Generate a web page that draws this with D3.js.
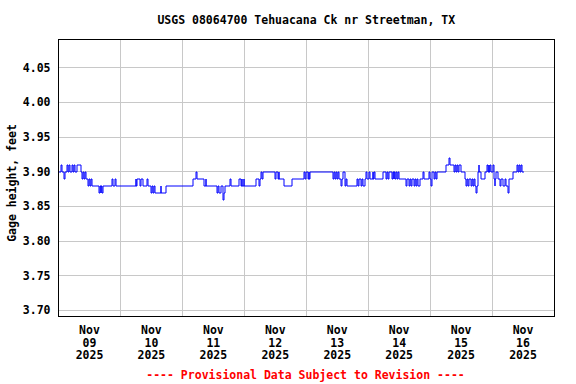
<!DOCTYPE html>
<html>
<head>
<meta charset="utf-8">
<script src="https://cdn.jsdelivr.net/npm/d3@7"></script>
<style>
    body { margin: 0; background: #fff; }
    text { font-family: 'DejaVu Sans Mono', monospace; font-weight: bold; }
</style>
</head>
<body>
<div id="gageChart"></div>
<script>
const title = 'USGS 08064700 Tehuacana Ck nr Streetman, TX',
    yLabel = 'Gage height, feet',
    footer = '---- Provisional Data Subject to Revision ----';

// start of the plotted period (hours below are counted from here, UTC)
const startDay = Date.UTC(2025, 10, 9),
    endDay = Date.UTC(2025, 10, 17);

const dayLabels = ['09', '10', '11', '12', '13', '14', '15', '16'];
const yTicks = [3.70, 3.75, 3.80, 3.85, 3.90, 3.95, 4.00, 4.05];
const yDomain = [3.6913, 4.0904];

// gage height change points: hours since Nov 09 00:00, feet
const gageHours = [
    0, 0.65, 1.0, 1.9, 2.2, 3.2, 3.6, 3.9, 4.3, 5.2, 5.5, 5.9, 6.2, 6.8, 8.6, 9.0, 9.4, 9.8, 10.1, 10.3,
    11.2, 11.5, 12.0, 12.4, 12.6, 15.5, 15.8, 16.1, 16.4, 16.6, 17.0, 20.6, 21.0, 21.7, 22.2,
    29.7, 30.0, 30.3, 31.2, 31.7, 32.5, 34.1, 34.6, 35.6, 35.9, 36.6, 36.9, 37.2, 39.4, 39.7, 41.55,
    52.1, 53.2, 53.6, 56.3, 56.8, 57.1, 61.2, 61.7, 62.1, 62.7, 63.6, 64.0, 64.5, 66.3, 66.8,
    69.8, 70.4, 70.8, 71.1, 71.6, 71.8, 76.4,
    77.4, 77.7, 78.4, 78.6, 79.0, 83.7, 84.1, 84.8, 85.2, 85.4, 87.2, 90.3, 94.8, 95.4, 95.8, 96.3, 96.7, 97.0, 97.3,
    106.1, 106.5, 106.8, 107.4, 107.7, 108.1, 108.4, 109.4, 109.7, 110.0, 110.7, 111.0, 111.3, 111.6,
    115.4, 115.9, 116.4, 116.9, 117.4, 117.9, 118.5, 119.0, 119.4, 120.2, 120.5, 121.5, 121.8, 122.2, 122.5,
    125.4, 126.7, 127.0, 127.6, 127.9,
    129.0, 129.3, 129.7, 130.0, 130.3, 130.6, 131.0, 131.3, 131.6, 134.5, 135.0, 135.5, 136.0, 136.4, 136.8,
    137.4, 138.0, 138.4, 138.8, 139.3, 139.7, 141.1, 141.6, 143.3, 143.8, 144.2, 144.7, 145.2, 145.6, 146.0,
    146.4, 150.0, 151.0, 151.4, 152.9, 153.3,
    153.7, 154.1, 154.5, 154.9, 155.6, 157.2, 157.8, 158.2, 158.5, 158.9, 159.5, 160.0, 160.4, 160.8, 161.3,
    161.7, 162.1, 162.3, 162.6, 162.9, 163.4, 164.9, 165.7, 166.1, 166.5, 166.7, 167.1, 167.5, 168.2, 168.5,
    168.8, 169.1, 169.4, 170.0, 170.7, 171.3, 172.0, 172.7, 173.3, 173.9, 174.3, 175.2, 175.9, 177.3, 177.7,
    178.1, 178.5, 178.9, 179.3, 180.0
];
const gageValues = [
    3.90, 3.91, 3.90, 3.89, 3.90, 3.91, 3.90, 3.91, 3.90, 3.91, 3.90, 3.91, 3.90, 3.91, 3.90, 3.89, 3.90, 3.89, 3.90, 3.89,
    3.88, 3.89, 3.88, 3.89, 3.88, 3.87, 3.88, 3.87, 3.88, 3.87, 3.88, 3.89, 3.88, 3.89, 3.88,
    3.89, 3.88, 3.89, 3.88, 3.89, 3.88, 3.89, 3.88, 3.87, 3.88, 3.87, 3.88, 3.87, 3.88, 3.87, 3.88,
    3.89, 3.90, 3.89, 3.88, 3.89, 3.88, 3.87, 3.88, 3.87, 3.88, 3.86, 3.87, 3.88, 3.89, 3.88,
    3.89, 3.88, 3.89, 3.88, 3.89, 3.88, 3.89,
    3.88, 3.89, 3.90, 3.89, 3.90, 3.89, 3.90, 3.89, 3.90, 3.89, 3.88, 3.89, 3.90, 3.89, 3.90, 3.89, 3.90, 3.89, 3.90,
    3.89, 3.90, 3.89, 3.90, 3.89, 3.90, 3.89, 3.88, 3.89, 3.90, 3.89, 3.88, 3.89, 3.88,
    3.89, 3.88, 3.89, 3.88, 3.89, 3.88, 3.89, 3.90, 3.89, 3.90, 3.89, 3.90, 3.89, 3.90, 3.89,
    3.90, 3.89, 3.90, 3.89, 3.90,
    3.89, 3.90, 3.89, 3.90, 3.89, 3.90, 3.89, 3.90, 3.89, 3.88, 3.89, 3.88, 3.89, 3.88, 3.89,
    3.88, 3.89, 3.88, 3.89, 3.88, 3.89, 3.90, 3.89, 3.90, 3.89, 3.88, 3.90, 3.89, 3.90, 3.89,
    3.90, 3.91, 3.92, 3.91, 3.90, 3.91,
    3.90, 3.91, 3.90, 3.91, 3.90, 3.89, 3.88, 3.89, 3.88, 3.89, 3.88, 3.89, 3.88, 3.89, 3.88,
    3.87, 3.88, 3.90, 3.91, 3.90, 3.89, 3.90, 3.91, 3.90, 3.91, 3.90, 3.91, 3.90, 3.91, 3.89,
    3.88, 3.89, 3.90, 3.89, 3.88, 3.89, 3.88, 3.89, 3.88, 3.87, 3.89, 3.89, 3.90, 3.91, 3.90,
    3.91, 3.90, 3.91, 3.90, 3.90
];

const margin = { top: 39.5, right: 22, bottom: 68, left: 58.5 },
    width = 576 - margin.left - margin.right,
    height = 384 - margin.top - margin.bottom,
    labelSize = '11.5px';

const svg = d3.select('#gageChart')
    .append('svg')
    .attr('width', 576)
    .attr('height', 384);

// title
svg.append('text')
    .attr('x', margin.left + width / 2)
    .attr('y', 24)
    .attr('text-anchor', 'middle')
    .style('font-size', labelSize)
    .text(title);

const g = svg.append('g')
    .attr('transform', `translate(${margin.left},${margin.top})`);

const xScale = d3.scaleUtc().domain([startDay, endDay]).range([0, width]);
const yScale = d3.scaleLinear().domain(yDomain).range([height, 0]);

// horizontal grid + labels
const yAxis = g.append('g')
    .call(d3.axisLeft(yScale).tickValues(yTicks).tickSize(-width).tickFormat(d3.format('.2f')).tickPadding(8));
yAxis.select('.domain').remove();
yAxis.selectAll('line').attr('stroke', '#c8c8c8').attr('shape-rendering', 'crispEdges');
yAxis.selectAll('text').style('font-size', labelSize).attr('fill', '#000');

// vertical grid at midnight
const midnights = d3.utcDay.range(startDay + 864e5, endDay);
g.append('g')
    .selectAll('line')
    .data(midnights)
    .join('line')
    .attr('x1', (d) => xScale(d))
    .attr('x2', (d) => xScale(d))
    .attr('y1', 0)
    .attr('y2', height)
    .attr('stroke', '#c8c8c8')
    .attr('shape-rendering', 'crispEdges');

// date labels at noon
const noons = dayLabels.map((d, i) => startDay + i * 864e5 + 432e5);
const labelGroups = g.append('g')
    .selectAll('text')
    .data(noons)
    .join('text')
    .attr('text-anchor', 'middle')
    .attr('transform', (d) => `translate(${xScale(d)},${height + 18})`)
    .style('font-size', labelSize);
labelGroups.append('tspan').attr('x', 0).attr('dy', 0).text('Nov');
labelGroups.append('tspan').attr('x', 0).attr('dy', 12.7).text((d, i) => dayLabels[i]);
labelGroups.append('tspan').attr('x', 0).attr('dy', 12.7).text('2025');

// gage height line
const series = gageHours.map((h, i) => [startDay + h * 36e5, gageValues[i]]);
const gageLine = d3.line()
    .curve(d3.curveStepAfter)
    .x((d) => Math.round(xScale(d[0])) + 0.5)
    .y((d) => Math.round(yScale(d[1])) + 0.5);
g.append('path')
    .datum(series)
    .attr('fill', 'none')
    .attr('stroke', '#0000ff')
    .attr('stroke-width', 1)
    .attr('d', gageLine);

// plot border
g.append('rect')
    .attr('width', width)
    .attr('height', height)
    .attr('fill', 'none')
    .attr('stroke', '#000')
    .attr('shape-rendering', 'crispEdges');

// y axis label
svg.append('text')
    .attr('transform', `translate(16,183) rotate(-90)`)
    .attr('text-anchor', 'middle')
    .style('font-size', labelSize)
    .text(yLabel);

// footer
svg.append('text')
    .attr('x', 305.5)
    .attr('y', 379)
    .attr('text-anchor', 'middle')
    .attr('fill', '#ff0000')
    .style('font-size', labelSize)
    .text(footer);
</script>
</body>
</html>
